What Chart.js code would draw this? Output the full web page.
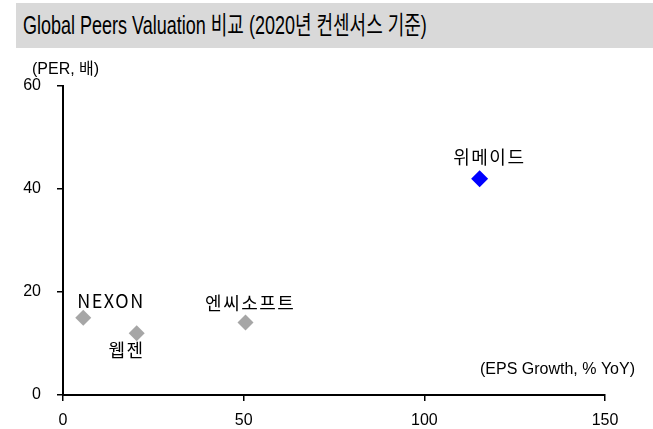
<!DOCTYPE html>
<html>
<head>
<meta charset="utf-8">
<script src="https://cdn.jsdelivr.net/npm/chart.js@4"></script>
<style>
  html, body { margin: 0; padding: 0; background: #fff; }
  #wrap { position: relative; width: 653px; height: 429px; overflow: hidden; }
  #band { position: absolute; left: 16px; top: 3px; width: 637px; height: 45px; background: #d9d9d9; }
  #title { position: absolute; left: 23px; top: 10px; font: 25px "Liberation Sans", "Noto Sans CJK KR", sans-serif;
           color: #000; white-space: nowrap; transform: scaleX(0.72); transform-origin: left center; line-height: 30px; }
  #chart { position: absolute; left: 0; top: 0; }
</style>
</head>
<body>
<div id="wrap">
  <div id="band"></div>
  <div id="title">Global Peers Valuation 비교 (2020년 컨센서스 기준)</div>
  <canvas id="chart" width="653" height="429"></canvas>
</div>
<script>
// data
const companies = ['NEXON', '웹젠', '엔씨소프트', '위메이드'];
const epsGrowth = [5.6, 20.4, 50.5, 115.3];   // x, % YoY
const per = [15.0, 12.0, 14.1, 42.0];          // y, 배
const xTicks = [0, 50, 100, 150];
const yTicks = [0, 20, 40, 60];

// label offsets from each point (px)
const labelOffsets = [[27, -17], [-11, 17], [4, -19], [9, -22]];
const pointColors = ['#a6a6a6', '#a6a6a6', '#a6a6a6', '#0000ff'];
const pointSizes = [8, 8, 8, 8.5];

const points = companies.map((c, i) => ({ x: epsGrowth[i], y: per[i] }));

const labelPlugin = {
  id: 'labels',
  afterDatasetsDraw(chart) {
    const ctx = chart.ctx;
    const xs = chart.scales.x, ys = chart.scales.y;
    ctx.save();
    ctx.fillStyle = '#000';
    ctx.font = '18px "Noto Sans CJK KR", sans-serif';
    ctx.letterSpacing = '1.5px';
    ctx.textAlign = 'center';
    ctx.textBaseline = 'middle';
    companies.forEach((name, i) => {
      const px = xs.getPixelForValue(epsGrowth[i]) + labelOffsets[i][0];
      const py = ys.getPixelForValue(per[i]) + labelOffsets[i][1];
      ctx.fillText(name, px + 0.75, py);
    });
    ctx.letterSpacing = '0px';
    ctx.font = '16px "Liberation Sans", "Noto Sans CJK KR", sans-serif';
    ctx.textAlign = 'left';
    ctx.fillText('(PER, 배)', 32, 70);
    ctx.textAlign = 'right';
    ctx.fillText('(EPS Growth, % YoY)', 635, 370);
    ctx.restore();
  }
};

const tickFont = { family: '"Liberation Sans", Arial, sans-serif', size: 16 };

new Chart(document.getElementById('chart'), {
  type: 'scatter',
  data: {
    datasets: [{
      data: points,
      pointStyle: 'rectRot',
      pointRadius: pointSizes,
      pointHoverRadius: pointSizes,
      backgroundColor: pointColors,
      borderColor: pointColors,
      borderWidth: 0
    }]
  },
  options: {
    responsive: false,
    animation: false,
    events: [],
    layout: { padding: { left: 0, top: 86, right: 48, bottom: 0 } },
    plugins: { legend: { display: false }, tooltip: { enabled: false } },
    scales: {
      x: {
        type: 'linear',
        min: 0, max: 150,
        afterBuildTicks: s => { s.ticks = xTicks.map(v => ({ value: v })); },
        afterFit: s => { s.height = 34; },
        border: { display: true, color: '#000', width: 2 },
        grid: { drawOnChartArea: false, drawTicks: true, tickLength: 6, color: '#000', lineWidth: 1.5 },
        ticks: { color: '#000', font: tickFont, padding: 10, maxRotation: 0 }
      },
      y: {
        type: 'linear',
        min: 0, max: 60,
        afterBuildTicks: s => { s.ticks = yTicks.map(v => ({ value: v })); },
        afterFit: s => { s.width = 63; },
        border: { display: true, color: '#000', width: 2 },
        grid: { drawOnChartArea: false, drawTicks: true, tickLength: 6, color: '#000', lineWidth: 1.5 },
        ticks: { color: '#000', font: tickFont, padding: 16 }
      }
    }
  },
  plugins: [labelPlugin]
});
</script>
</body>
</html>
